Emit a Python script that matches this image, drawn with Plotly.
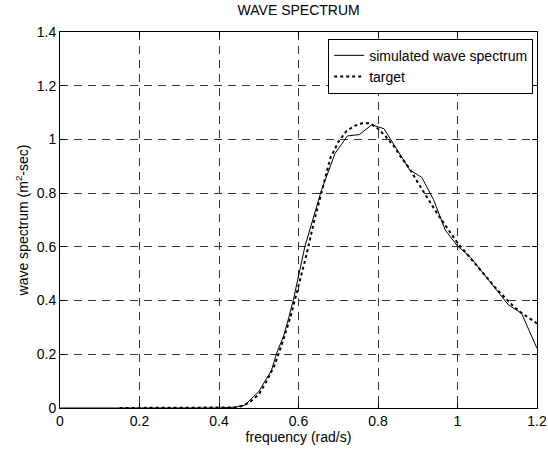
import plotly.graph_objects as go

# simulated wave spectrum (solid)
sim_freq = [0.0, 0.10, 0.20, 0.30, 0.40, 0.44, 0.465, 0.50, 0.532, 0.545, 0.562, 0.574, 0.587,
            0.616, 0.629, 0.65, 0.658, 0.692, 0.723, 0.753, 0.784, 0.815, 0.855, 0.88,
            0.91, 0.94, 0.969, 1.0, 1.031, 1.065, 1.099, 1.128, 1.161, 1.2]
sim_vals = [0.0, 0.0, 0.0, 0.0, 0.0, 0.003, 0.011, 0.061, 0.14, 0.204, 0.266, 0.328, 0.402,
            0.601, 0.669, 0.775, 0.812, 0.948, 1.013, 1.018, 1.054, 1.04, 0.942, 0.886,
            0.859, 0.775, 0.663, 0.603, 0.564, 0.50, 0.44, 0.384, 0.353, 0.222]

# target spectrum (dotted)
tgt_freq = [0.15, 0.20, 0.30, 0.40, 0.44, 0.46, 0.48, 0.50, 0.52, 0.54, 0.56, 0.58, 0.60,
            0.62, 0.64, 0.66, 0.68, 0.70, 0.72, 0.74, 0.76, 0.78, 0.80, 0.82, 0.84,
            0.86, 0.88, 0.90, 0.92, 0.94, 0.96, 0.98, 1.00, 1.02, 1.04, 1.06, 1.08,
            1.10, 1.12, 1.14, 1.16, 1.18, 1.20]
tgt_vals = [0.0, 0.0, 0.0, 0.0, 0.002, 0.008, 0.025, 0.05, 0.10, 0.16, 0.245, 0.34, 0.45,
            0.57, 0.70, 0.82, 0.93, 0.99, 1.03, 1.05, 1.06, 1.06, 1.04, 1.01, 0.975,
            0.93, 0.89, 0.84, 0.79, 0.745, 0.70, 0.655, 0.615, 0.58, 0.545, 0.51, 0.475,
            0.44, 0.41, 0.38, 0.355, 0.335, 0.315]

x_ticks = [0, 0.2, 0.4, 0.6, 0.8, 1.0, 1.2]
x_tick_text = ["0", "0.2", "0.4", "0.6", "0.8", "1", "1.2"]
y_ticks = [0, 0.2, 0.4, 0.6, 0.8, 1.0, 1.2, 1.4]
y_tick_text = ["0", "0.2", "0.4", "0.6", "0.8", "1", "1.2", "1.4"]

fig = go.Figure()
fig.add_trace(go.Scatter(x=sim_freq, y=sim_vals, mode="lines",
                         name="simulated wave spectrum",
                         line=dict(color="black", width=1)))
fig.add_trace(go.Scatter(x=tgt_freq, y=tgt_vals, mode="lines",
                         name="target",
                         line=dict(color="black", width=2, dash="dot")))

FAM = "Liberation Sans, Arial, sans-serif"
font = dict(family=FAM, size=14, color="black")
axis_common = dict(showline=True, linecolor="black", linewidth=1, mirror="ticks",
                   ticks="inside", ticklen=5, tickcolor="black",
                   showgrid=True, gridcolor="#333333", gridwidth=1, griddash="8px,6px",
                   zeroline=False, tickfont=font, automargin=False)

fig.update_layout(
    width=548, height=451,
    margin=dict(l=60, r=11, t=32, b=43),
    paper_bgcolor="white", plot_bgcolor="white",
    font=font,
    title=dict(text="WAVE SPECTRUM", x=0.545, xanchor="center", y=0.988, yanchor="top",
               font=dict(family=FAM, size=14, color="black")),
    xaxis=dict(range=[0, 1.2], tickvals=x_ticks, ticktext=x_tick_text,
               title=dict(text="frequency (rad/s)", standoff=0, font=font), **axis_common),
    yaxis=dict(range=[0, 1.4], tickvals=y_ticks, ticktext=y_tick_text,
               title=dict(text="wave spectrum (m<sup>2</sup>-sec)", standoff=4, font=font), **axis_common),
    legend=dict(x=0.992, xanchor="right", y=0.982, yanchor="top",
                bgcolor="white", bordercolor="black", borderwidth=1,
                font=font, tracegroupgap=0, itemwidth=30),
    showlegend=True,
)

fig.write_html("out.html")
